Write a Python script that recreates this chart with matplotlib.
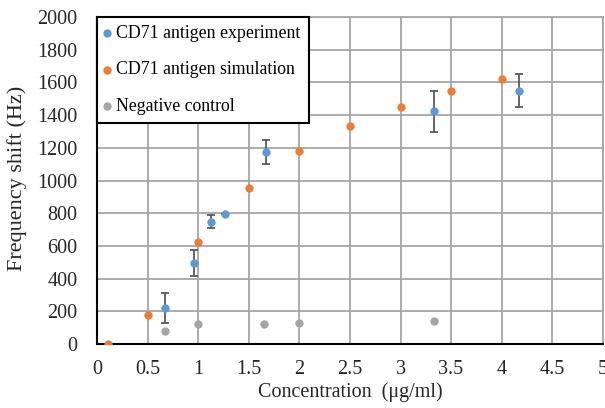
import matplotlib
matplotlib.use("Agg")
import matplotlib.pyplot as plt

plt.rcParams['font.family'] = ['Liberation Serif', 'DejaVu Serif']

exp_x = [0.67, 0.96, 1.12, 1.26, 1.67, 3.33, 4.17]
exp_y = [218, 497, 748, 795, 1176, 1425, 1550]
exp_err = [92, 80, 40, 0, 75, 125, 100]

sim_x = [0.1, 0.5, 1.0, 1.5, 2.0, 2.5, 3.0, 3.5, 4.0]
sim_y = [0, 175, 626, 952, 1180, 1335, 1452, 1548, 1619]

neg_x = [0.67, 1.0, 1.65, 2.0, 3.33]
neg_y = [80, 122, 124, 130, 141]

xticks = [0, 0.5, 1, 1.5, 2, 2.5, 3, 3.5, 4, 4.5, 5]
xtick_labels = ['0', '0.5', '1', '1.5', '2', '2.5', '3', '3.5', '4', '4.5', '5']
yticks = list(range(0, 2001, 200))

fig = plt.figure(figsize=(6.05, 4.08), dpi=100)
ax = fig.add_axes([0.161, 0.157, 0.835, 0.801])

ax.errorbar(exp_x, exp_y, yerr=exp_err, fmt='none', ecolor='#595959',
            elinewidth=1.3, capsize=2.6, capthick=1.3, zorder=3)
ax.scatter(exp_x, exp_y, s=36, color='#5B9BD5', zorder=4, label='CD71 antigen experiment', linewidths=0)
ax.scatter(sim_x, sim_y, s=36, color='#ED7D31', zorder=4, label='CD71 antigen simulation', linewidths=0)
ax.scatter(neg_x, neg_y, s=36, color='#A5A5A5', zorder=4, label='Negative control', linewidths=0)

ax.set_xlim(0, 5)
ax.set_ylim(0, 2000)
ax.set_xticks(xticks)
ax.set_xticklabels(xtick_labels)
ax.set_yticks(yticks)
ax.grid(True, color='#A6A6A6', linewidth=1.3)
ax.set_axisbelow(True)
ax.tick_params(length=0, labelsize=14.5, colors='#262626')
ax.tick_params(axis='x', pad=11.5)
ax.tick_params(axis='y', pad=14.5)
for s in ['top', 'right']:
    ax.spines[s].set_color('#A6A6A6')
    ax.spines[s].set_linewidth(1.3)
for s in ['left', 'bottom']:
    ax.spines[s].set_color('black')
    ax.spines[s].set_linewidth(1.5)

fig.text(350 / 605, 1 - 392 / 408, 'Concentration  (μg/ml)', fontsize=14.5,
         color='#262626', ha='center', va='center')
fig.text(17 / 605, 1 - 178 / 408, 'Frequency shift (Hz)', fontsize=16,
         color='#262626', ha='center', va='center', rotation=90)

leg = ax.legend(loc='upper left', bbox_to_anchor=(0.0, 1.0), fontsize=12.8,
                frameon=True, fancybox=False, handletextpad=0.4, handlelength=0.22,
                labelspacing=1.08, borderpad=0.45, borderaxespad=0.0, markerscale=1.0)
leg.get_frame().set_edgecolor('black')
leg.get_frame().set_linewidth(1.5)
leg.get_frame().set_alpha(1)

fig.savefig('out.png', dpi=100)
